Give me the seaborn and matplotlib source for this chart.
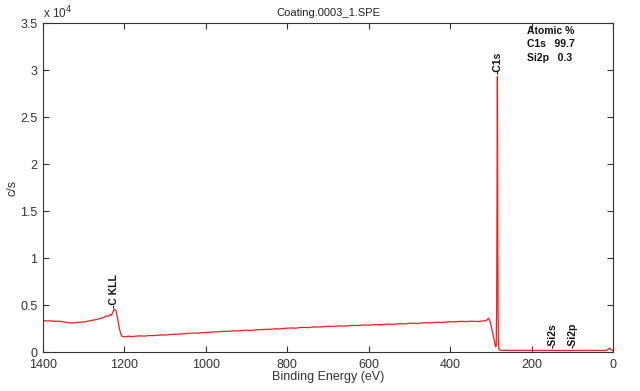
import matplotlib
matplotlib.use("Agg")
import matplotlib.pyplot as plt
import seaborn as sns
from matplotlib.ticker import FuncFormatter

# Survey spectrum (binding energy in eV, counts/s)
energia = [
    1400, 1390, 1380, 1370, 1360, 1350, 1340, 1330, 1320, 1310,
    1300, 1290, 1280, 1270, 1260, 1250, 1245, 1240, 1236, 1232,
    1228, 1225, 1221, 1217, 1213, 1209, 1205, 1200, 1190, 1180,
    1170, 1160, 1150, 1140, 1130, 1120, 1110, 1100, 1090, 1080,
    1070, 1060, 1050, 1040, 1030, 1020, 1010, 1000, 990, 980,
    970, 960, 950, 940, 930, 920, 910, 900, 890, 880,
    870, 860, 850, 840, 830, 820, 810, 800, 790, 780,
    770, 760, 750, 740, 730, 720, 710, 700, 690, 680,
    670, 660, 650, 640, 630, 620, 610, 600, 590, 580,
    570, 560, 550, 540, 530, 520, 510, 500, 490, 480,
    470, 460, 450, 440, 430, 420, 410, 400, 390, 380,
    370, 360, 350, 340, 330, 320, 312, 306, 302, 298,
    294, 291, 289, 287.5, 286.3, 285.4, 284.6, 284.0, 283.5, 282.9,
    282.2, 281.4, 280.5, 278, 270, 250, 220, 190, 160, 130,
    100, 70, 40, 20, 14, 10, 6, 2, 0,
]
contagens = [
    3350, 3300, 3320, 3260, 3280, 3200, 3150, 3080, 3120, 3150,
    3200, 3280, 3350, 3450, 3550, 3700, 3850, 3800, 4000, 3900,
    4300, 4550, 4400, 3600, 2600, 1900, 1650, 1620, 1680, 1640,
    1700, 1720, 1690, 1760, 1740, 1780, 1820, 1800, 1860, 1880,
    1900, 1930, 1950, 1990, 2010, 2000, 2060, 2080, 2100, 2150,
    2140, 2200, 2190, 2230, 2260, 2240, 2300, 2320, 2290, 2350,
    2380, 2400, 2420, 2410, 2480, 2460, 2500, 2540, 2560, 2530,
    2600, 2620, 2590, 2650, 2680, 2660, 2700, 2740, 2720, 2760,
    2780, 2750, 2800, 2830, 2810, 2850, 2880, 2860, 2900, 2920,
    2890, 2950, 2970, 2940, 3000, 3020, 2990, 3050, 3060, 3030,
    3100, 3120, 3090, 3150, 3170, 3140, 3200, 3230, 3200, 3250,
    3260, 3230, 3280, 3270, 3250, 3300, 3350, 3600, 3200, 2400,
    1600, 900, 550, 700, 5000, 17000, 29300, 22000, 11000, 4500,
    1500, 500, 250, 200, 180, 170, 175, 165, 170, 160,
    165, 160, 170, 160, 250, 400, 300, 150, 140,
]

# Peak labels (energy, counts at base of label)
picos = ["-C KLL", "-C1s", "-Si2s", "-Si2p"]
picos_x = [1225, 284.5, 148, 99]
picos_y = [4700, 29600, 400, 400]

composicao = ["Atomic %", "C1s   99.7", "Si2p   0.3"]

sns.set_style("ticks")
plt.rcParams["font.family"] = ["Liberation Sans", "DejaVu Sans"]

fig = plt.figure(figsize=(6.4, 3.91), dpi=100)
ax = fig.add_axes([0.0672, 0.0997, 0.8911, 0.8414])

sns.lineplot(x=energia, y=contagens, color="#ff1a1a", lw=0.9, ax=ax,
             sort=False, estimator=None)

ax.set_xlim(1400, 0)
ax.set_ylim(0, 35000)
ax.set_xticks([1400, 1200, 1000, 800, 600, 400, 200, 0])
ax.set_yticks([0, 5000, 10000, 15000, 20000, 25000, 30000, 35000])
ax.yaxis.set_major_formatter(FuncFormatter(lambda v, p: f"{v / 1e4:g}"))
ax.tick_params(direction="in", top=True, right=True, length=4, width=0.8,
               labelsize=9, colors="#333333", labelcolor="#333333")
ax.tick_params(axis="x", pad=5)
ax.tick_params(axis="y", pad=4)
for s in ax.spines.values():
    s.set_visible(True)
    s.set_color("#333333")
    s.set_linewidth(0.8)

ax.set_xlabel("Binding Energy (eV)", fontsize=9, color="#333333", labelpad=0)
ax.set_ylabel("c/s", fontsize=9, color="#333333", labelpad=1)
ax.set_title("Coating.0003_1.SPE", fontsize=8, color="#222222", pad=5)
ax.text(0.0, 1.005, "x 10$^4$", transform=ax.transAxes, fontsize=8.5,
        color="#333333", ha="left", va="bottom")

for nome, xx, yy in zip(picos, picos_x, picos_y):
    ax.text(xx, yy, nome, rotation=90, ha="center", va="bottom",
            fontsize=7.5, fontweight="bold", color="#111111")

for i, linha in enumerate(composicao):
    ax.text(0.849, 0.99 - i * 0.04, linha, transform=ax.transAxes,
            fontsize=7.5, fontweight="bold", va="top", ha="left",
            color="#111111")

fig.savefig("out.png", dpi=100)
